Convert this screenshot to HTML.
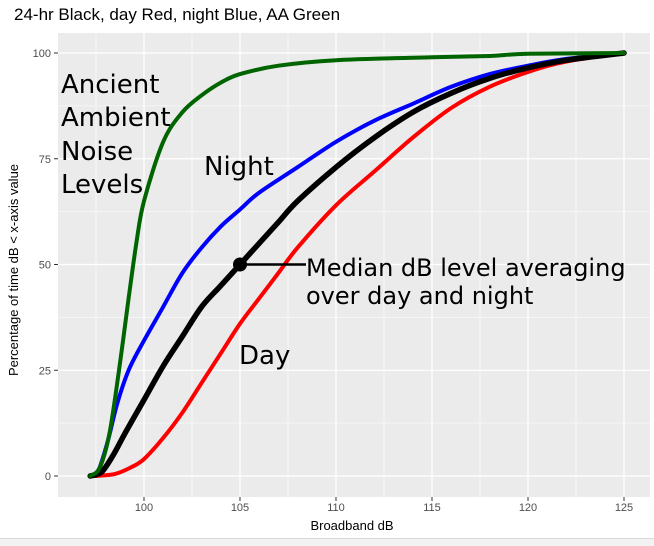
<!DOCTYPE html>
<html><head><style>
body{margin:0;background:#fff;}
svg{display:block;font-family:"Liberation Sans",sans-serif;}
</style></head><body>
<svg id="s" width="654" height="546" xmlns="http://www.w3.org/2000/svg">
<rect x="0" y="0" width="654" height="546" fill="#fff"/>
<rect x="0" y="538" width="654" height="8" fill="#f2f2f2"/>
<line x1="0" y1="538.5" x2="654" y2="538.5" stroke="#d9d9d9"/>
<rect x="58" y="33" width="592" height="464" fill="#ebebeb"/>
<g id="grid"></g>
<g id="curves" fill="none" stroke-linejoin="round" stroke-linecap="round"></g>
<circle cx="240" cy="264.5" r="7" fill="#000"/>
<line x1="240" y1="264.5" x2="306" y2="264.5" stroke="#000" stroke-width="2.5"/>
<text x="14" y="20" font-size="17" fill="#000">24-hr Black, day Red, night Blue, AA Green</text>
<g font-family="DejaVu Sans, sans-serif" font-size="26" fill="#000">
<text x="61" y="93">Ancient</text><text x="61" y="126">Ambient</text><text x="61" y="160">Noise</text><text x="61" y="193">Levels</text>
<text x="204" y="175">Night</text>
<text x="239" y="364">Day</text>
<text x="306" y="276" font-size="24">Median dB level averaging</text>
<text x="306" y="304" font-size="24">over day and night</text>
</g>
<text x="352" y="530" font-size="13" text-anchor="middle">Broadband dB</text>
<text transform="translate(18,270) rotate(-90)" font-size="13" text-anchor="middle">Percentage of time dB &lt; x-axis value</text>
<g id="ticks" font-size="11" fill="#4d4d4d"></g>
</svg>
<script>
var X=d=>144+(d-100)*19.2, Y=p=>476-p*4.23, ns="http://www.w3.org/2000/svg";
function el(p,t,a,txt){var e=document.createElementNS(ns,t);for(var k in a)e.setAttribute(k,a[k]);if(txt!=null)e.textContent=txt;p.appendChild(e);return e;}
var g=document.getElementById('grid'),tk=document.getElementById('ticks');
[97.5,102.5,107.5,112.5,117.5,122.5].forEach(d=>el(g,'line',{x1:X(d),x2:X(d),y1:33,y2:497,stroke:'#fff','stroke-width':0.6}));
[12.5,37.5,62.5,87.5].forEach(p=>el(g,'line',{x1:58,x2:650,y1:Y(p),y2:Y(p),stroke:'#fff','stroke-width':0.6}));
[100,105,110,115,120,125].forEach(d=>{el(g,'line',{x1:X(d),x2:X(d),y1:33,y2:497,stroke:'#fff','stroke-width':1.2});el(g,'line',{x1:X(d),x2:X(d),y1:497,y2:501,stroke:'#333'});el(tk,'text',{x:X(d),y:511,'text-anchor':'middle'},d);});
[0,25,50,75,100].forEach(p=>{el(g,'line',{x1:58,x2:650,y1:Y(p),y2:Y(p),stroke:'#fff','stroke-width':1.2});el(g,'line',{x1:54,x2:58,y1:Y(p),y2:Y(p),stroke:'#333'});el(tk,'text',{x:51,y:Y(p)+4,'text-anchor':'end'},p);});
var C=document.getElementById('curves');
function line(pts,col,w){
 var P=pts.map(q=>[X(q[0]),Y(q[1])]),d='M'+P[0][0].toFixed(1)+','+P[0][1].toFixed(1);
 for(var i=0;i<P.length-1;i++){var p0=P[i-1]||P[i],p1=P[i],p2=P[i+1],p3=P[i+2]||p2;
  var c1=[p1[0]+(p2[0]-p0[0])/6,p1[1]+(p2[1]-p0[1])/6],c2=[p2[0]-(p3[0]-p1[0])/6,p2[1]-(p3[1]-p1[1])/6];
  d+='C'+c1.map(v=>v.toFixed(1))+' '+c2.map(v=>v.toFixed(1))+' '+p2.map(v=>v.toFixed(1));}
 el(C,'path',{d:d,stroke:col,'stroke-width':w});}
line([[97.5,0],[98.5,0.5],[99.3,2],[100,4],[101,9],[102,15],[103,22],[104,29],[105,36],[106,42],[107,48],[108,54],[110,64],[112,72],[114,80],[116,87],[118,92],[120,95.5],[122,98],[125,100]],'#ff0000',4);
line([[97.2,0],[97.6,1],[98.1,8],[98.6,17],[99.2,25],[100,32],[101,40],[102,48],[103,54],[104,59],[105,63],[106,67],[108,73],[110,79],[112,84],[114,88],[116,92],[118,95],[120,97],[122,98.6],[125,100]],'#0000ff',4);
line([[97.2,0],[97.8,1],[98.4,5],[99,10],[100,18],[101,26],[102,33],[103,40],[104,45],[105,50],[106,55],[107,60],[108,65],[110,73],[112,80],[114,86],[116,90.5],[118,94],[120,96.5],[122,98.3],[125,100]],'#000',5.5);
line([[97.2,0],[97.7,2],[98.2,10],[98.7,25],[99.2,42],[99.6,55],[100,65],[101,79],[102,86],[103,90],[104,93],[105,95],[107,97],[110,98.3],[115,99],[118,99.3],[120,99.8],[125,100]],'#006400',4);
</script>
</body></html>
